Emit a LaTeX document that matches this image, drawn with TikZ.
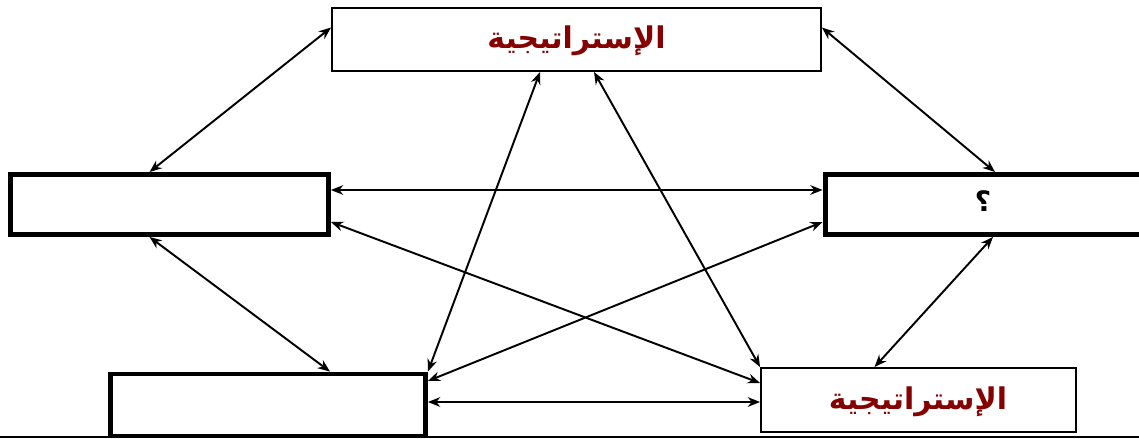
\documentclass[tikz,border=0pt]{standalone}
\usepackage{fontspec}
\usepackage{tikz}
\usetikzlibrary{arrows.meta,positioning,calc}
\TeXXeTstate=1
\newfontfamily\arabicfont[Script=Arabic]{DejaVu Sans}
\definecolor{ink}{HTML}{000000}
\definecolor{maroon}{HTML}{850000}

\begin{document}
\begin{tikzpicture}[x=0.02cm,y=-0.02cm,
    thinbox/.style={draw=ink,line width=1.1pt,fill=white,inner sep=0pt},
    thickbox/.style={draw=ink,line width=2.8pt,fill=white,inner sep=0pt},
    label/.style={font=\arabicfont\bfseries\fontsize{17}{19}\selectfont,text=maroon},
    link/.style={draw=ink,line width=1.1pt,{Stealth[length=7pt,width=5.5pt]}-{Stealth[length=7pt,width=5.5pt]}}]
  \useasboundingbox[fill=white] (0,0) rectangle (1139,439);

  % boxes
  \node[thinbox,minimum width=9.78cm,minimum height=1.26cm] (strat) at (576.5,39.5) {};
  \node[thickbox,minimum width=6.36cm,minimum height=1.2cm] (left) at (169.5,204.5) {};
  \node[thickbox,minimum width=6.4cm,minimum height=1.2cm] (right) at (985,204.5) {};
  \node[thickbox,minimum width=6.3cm,minimum height=1.24cm] (botleft) at (268,405) {};
  \node[thinbox,minimum width=6.3cm,minimum height=1.28cm] (botright) at (918.5,400) {};

  % texts
  \node[label] (t1) at (576.5,41) {\beginR الإستراتيجية\endR};
  \node[label] (t2) at (918,402) {\beginR الإستراتيجية\endR};
  \node[font=\arabicfont\bfseries\fontsize{16}{18}\selectfont] (q) at (983,201) {\beginR ؟\endR};

  % connectors
  \draw[link] ($(strat.west)+(0,-12)$) -- ($(left.north)+(-20,0)$);
  \draw[link] ($(strat.east)+(0,-12)$) -- ($(right.north)+(10,0)$);
  \draw[link] ($(left.east)+(0,-14.5)$) -- ($(right.west)+(0,-14.5)$);
  \draw[link] ($(left.east)+(0,17.5)$) -- ($(botright.west)+(0,-17)$);
  \draw[link] ($(right.west)+(0,17.5)$) -- ($(botleft.east)+(0,-24)$);
  \draw[link] ($(left.south)+(-20,0)$) -- ($(botleft.north)+(62,0)$);
  \draw[link] ($(right.south)+(8,0)$) -- ($(botright.north)+(-44,0)$);
  \draw[link] ($(botleft.east)+(0,-3)$) -- ($(botright.west)+(0,2)$);
  \draw[link] ($(strat.south)+(-36.5,0)$) -- (botleft.north east);
  \draw[link] ($(strat.south)+(17.5,0)$) -- (botright.north west);

  % bottom rule
  \draw[ink,line width=0.8pt] (0,437) -- (1139,437);
\end{tikzpicture}
\end{document}
